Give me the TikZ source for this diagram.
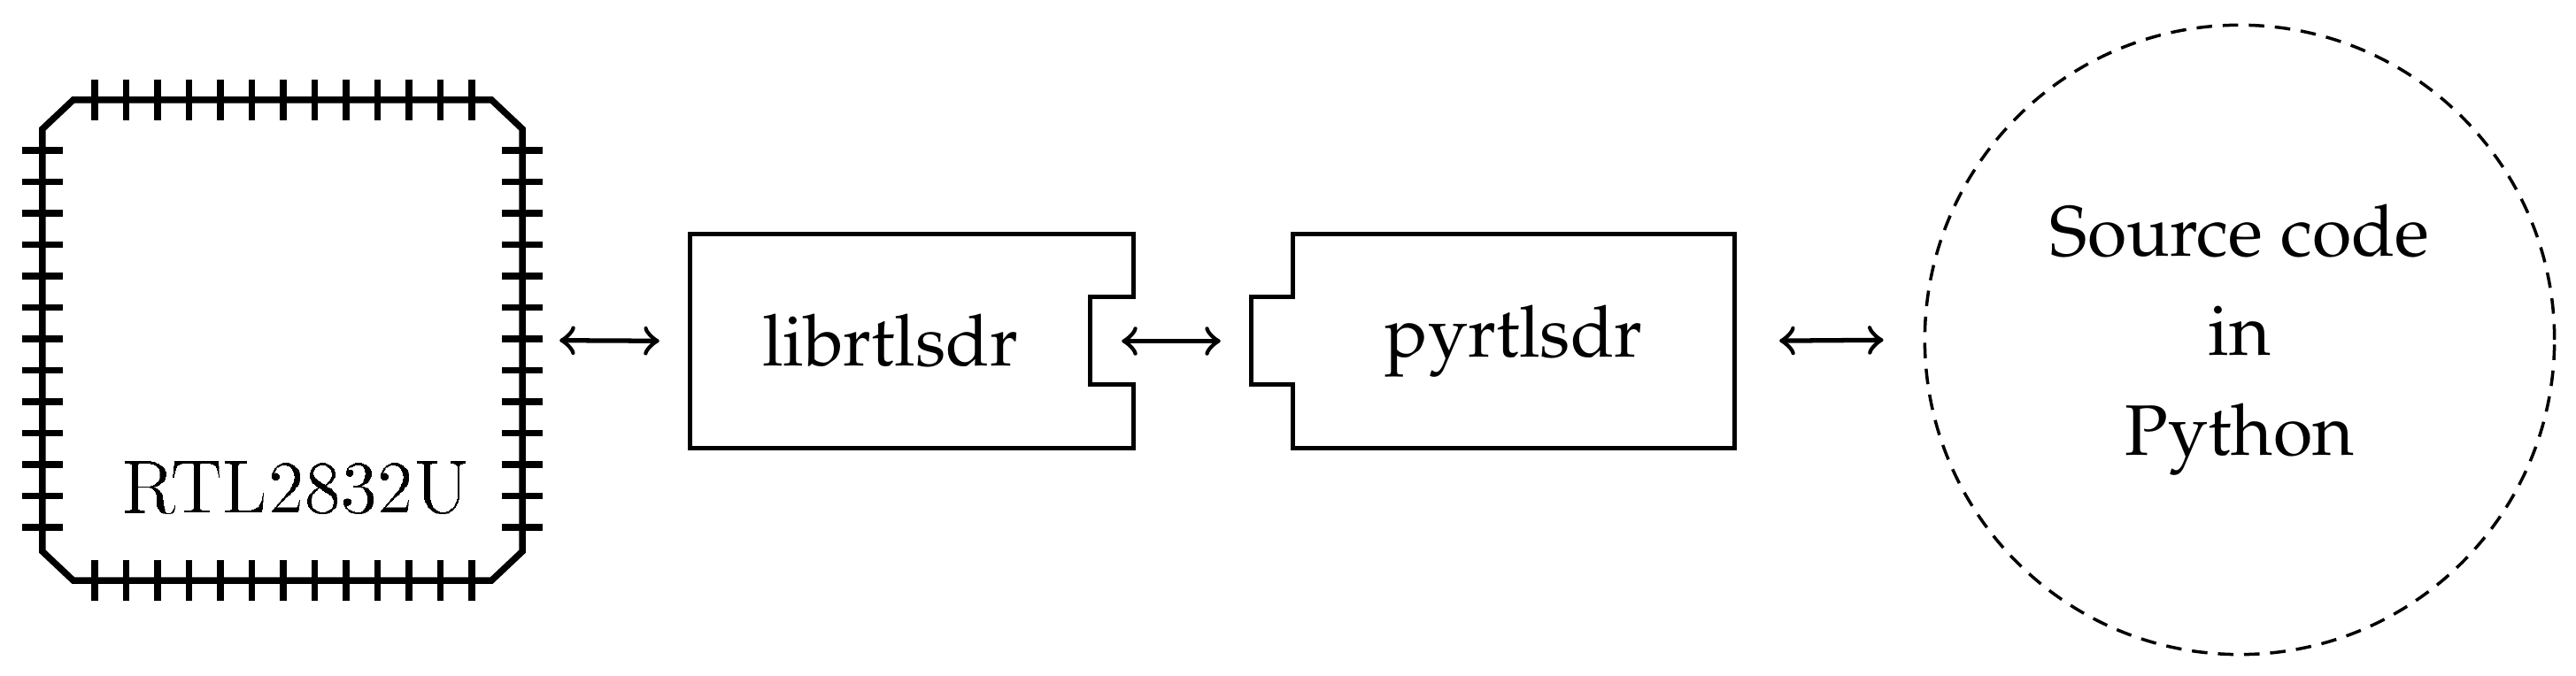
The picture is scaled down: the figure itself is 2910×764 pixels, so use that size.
\documentclass[tikz,border=0pt]{standalone}
\usepackage[T1]{fontenc}
\usepackage{mathpazo}
\usetikzlibrary{calc}

\begin{document}
\begin{tikzpicture}[x=0.005cm,y=-0.005cm,
  txt/.style={font=\fontsize{11.5}{16}\selectfont},
  block/.style={rectangle,inner sep=0pt,txt},
  link/.style={<->,line width=0.75pt}]
\useasboundingbox (0,0) rectangle (2910,764);

% Chip
\node (chip) at (319,384.5) [block,minimum width=2.7cm,minimum height=2.705cm] {};
\draw[line width=1.05pt] ($(chip.north west)+(35,0)$) -- ($(chip.north east)+(-35,0)$)
  -- ($(chip.north east)+(0,33)$) -- ($(chip.south east)+(0,-33)$)
  -- ($(chip.south east)+(-35,0)$) -- ($(chip.south west)+(35,0)$)
  -- ($(chip.south west)+(0,-33)$) -- ($(chip.north west)+(0,33)$) -- cycle;
\foreach \i in {0,...,12} {
  \draw[line width=1.05pt] ($(chip.north west)+(59+35.5*\i,-23)$) -- ++(0,46);
  \draw[line width=1.05pt] ($(chip.south west)+(59+35.5*\i,-23)$) -- ++(0,46);
  \draw[line width=1.05pt] ($(chip.north west)+(-23,57+35.5*\i)$) -- ++(46,0);
  \draw[line width=1.05pt] ($(chip.north east)+(-23,57+35.5*\i)$) -- ++(46,0);
}
\node (chiplabel) at ($(chip)+(15,165)$) [txt] {\ttfamily RTL2832U};

% librtlsdr
\node (lib) at (1005.5,385.5) [block,minimum width=2.245cm,minimum height=1.195cm] {librtlsdr};
\draw[line width=0.75pt] (lib.north west) -- ($(lib.north east)+(49,0)$)
  -- ($(lib.north east)+(49,71)$) -- ($(lib.north east)+(0,71)$)
  -- ($(lib.south east)+(0,-72)$) -- ($(lib.south east)+(49,-72)$)
  -- ($(lib.south east)+(49,0)$) -- (lib.south west) -- cycle;

% pyrtlsdr
\node (py) at (1710,385.5) [block,minimum width=2.48cm,minimum height=1.195cm] {pyrtlsdr};
\coordinate (pyplug) at ($(py.west)+(-47,0)$);
\draw[line width=0.75pt] (py.north west) -- (py.north east) -- (py.south east)
  -- (py.south west) -- ($(py.south west)+(0,-72)$) -- ($(py.south west)+(-47,-72)$)
  -- ($(py.north west)+(-47,71)$) -- ($(py.north west)+(0,71)$) -- cycle;

% Source code
\node (code) at (2530,384) [circle,draw,dash pattern=on 2.5pt off 1.7pt,line width=0.5pt,
  minimum size=3.56cm,inner sep=0pt,txt,align=center] {Source code\\in\\Python};

% Links
\draw[link,shorten <=0.21cm,shorten >=0.175cm] (chip.east) -- (lib.west);
\draw[link,shorten <=0.18cm,shorten >=0.175cm] (lib.east) -- (pyplug);
\draw[link,shorten <=0.255cm,shorten >=0.225cm] (py.east) -- (code.west);
\end{tikzpicture}
\end{document}
